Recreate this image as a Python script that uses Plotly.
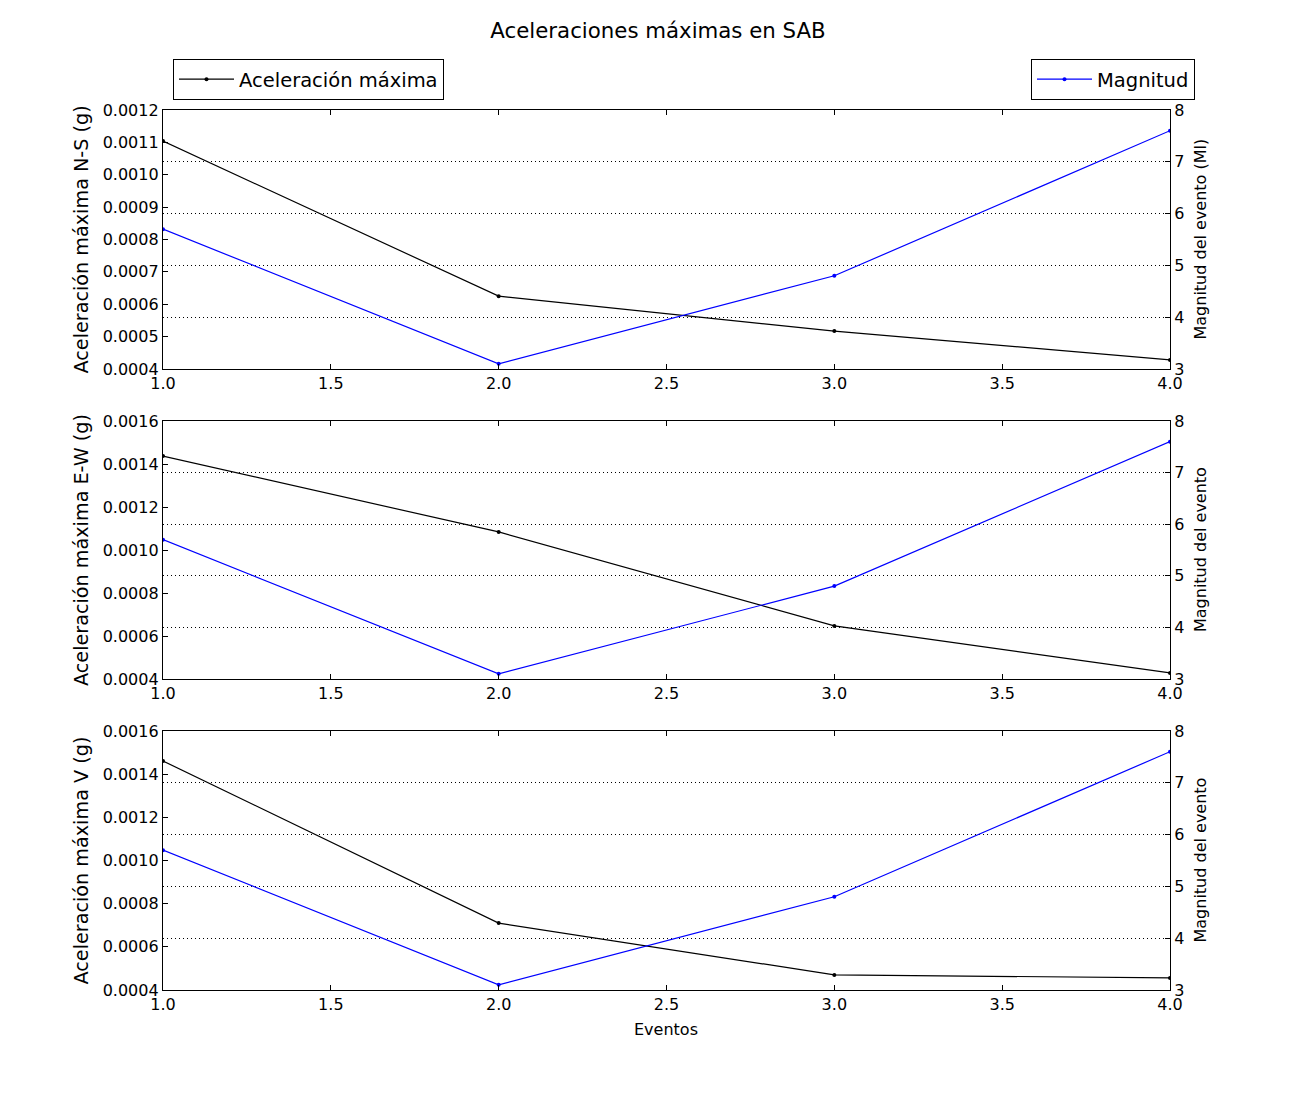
import plotly.graph_objects as go

eventos = [1, 2, 3, 4]
acc_ns = [0.001104, 0.000625, 0.000517, 0.000428]
acc_ew = [0.001437, 0.001084, 0.000647, 0.000428]
acc_v = [0.001461, 0.000710, 0.000470, 0.000456]
magnitud = [5.7, 3.1, 4.8, 7.6]

left_titles = ["Aceleración máxima N-S (g)", "Aceleración máxima E-W (g)", "Aceleración máxima V (g)"]
right_titles = ["Magnitud del evento (Ml)", "Magnitud del evento", "Magnitud del evento"]
left_ranges = [[0.0004, 0.0012], [0.0004, 0.0016], [0.0004, 0.0016]]
left_dticks = [0.0001, 0.0002, 0.0002]
series = [acc_ns, acc_ew, acc_v]

FONT = "DejaVu Sans"
OFF = 8  # page offset in screenshot
W, H = 1300, 1100
L = 163 - OFF
T = 110 - OFF
R = W - 1170 + OFF
B = H - 990 + OFF
pw, ph = W - L - R, H - T - B

def py(px):
    return (H - B - (px - OFF)) / ph

def pxx(px):
    return ((px - OFF) - L) / pw

panels = [(110, 369), (421, 679), (731, 990)]

fig = go.Figure()
for i in range(3):
    n = i + 1
    xa = "x" if n == 1 else f"x{n}"
    ya_l = "y" if n == 1 else f"y{n}"
    ya_r = f"y{n+3}"
    fig.add_trace(go.Scatter(
        x=eventos, y=series[i], mode="lines+markers", name="Aceleración máxima",
        line=dict(color="black", width=1.2), marker=dict(color="black", size=4),
        xaxis=xa, yaxis=ya_l, showlegend=(n == 1), legend="legend"))
    fig.add_trace(go.Scatter(
        x=eventos, y=magnitud, mode="lines+markers", name="Magnitud",
        line=dict(color="blue", width=1.2), marker=dict(color="blue", size=4),
        xaxis=xa, yaxis=ya_r, showlegend=(n == 1), legend="legend2"))

    top, bot = panels[i]
    dom = [py(bot), py(top)]
    axcommon = dict(showline=True, linecolor="black", linewidth=1.3, ticks="inside",
                    ticklen=5, tickcolor="black", tickfont=dict(family=FONT, size=16, color="black"),
                    zeroline=False)
    xkey = "xaxis" if n == 1 else f"xaxis{n}"
    ylkey = "yaxis" if n == 1 else f"yaxis{n}"
    yrkey = f"yaxis{n+3}"
    fig.layout[xkey] = dict(domain=[0, 1], anchor=ya_l, range=[1, 4], dtick=0.5, tick0=1,
                            tickformat=".1f", showgrid=False, mirror="ticks", **axcommon)
    fig.layout[ylkey] = dict(domain=dom, anchor=xa, range=left_ranges[i], dtick=left_dticks[i],
                             tick0=0.0004, tickformat=".4f", showgrid=False, **axcommon)
    fig.layout[yrkey] = dict(domain=dom, anchor=xa, overlaying=ya_l, side="right", range=[3, 8],
                             dtick=1, tick0=3, showgrid=True, gridcolor="black", griddash="1px,3px",
                             gridwidth=1, **axcommon)
    fig.add_annotation(text=left_titles[i], xref="paper", yref="paper", x=pxx(81),
                       y=(dom[0] + dom[1]) / 2, textangle=-90, showarrow=False,
                       xanchor="center", yanchor="middle",
                       font=dict(family=FONT, size=19.2, color="black"))
    fig.add_annotation(text=right_titles[i], xref="paper", yref="paper", x=pxx(1200),
                       y=(dom[0] + dom[1]) / 2, textangle=-90, showarrow=False,
                       xanchor="center", yanchor="middle",
                       font=dict(family=FONT, size=16, color="black"))

fig.add_annotation(text="Eventos", xref="paper", yref="paper", x=pxx(666), y=py(1029),
                   showarrow=False, xanchor="center", yanchor="middle",
                   font=dict(family=FONT, size=16, color="black"))

fig.update_layout(
    width=W, height=H, plot_bgcolor="white", paper_bgcolor="white",
    margin=dict(l=L, r=R, t=T, b=B),
    title=dict(text="Aceleraciones máximas en SAB", x=0.5, xref="container", y=1 - (31 - OFF) / H,
               yref="container", xanchor="center", yanchor="middle",
               font=dict(family=FONT, size=21.3, color="black")),
    legend=dict(x=pxx(173), y=py(59), xanchor="left", yanchor="top", bgcolor="white",
                bordercolor="black", borderwidth=1, itemwidth=55, tracegroupgap=0,
                font=dict(family=FONT, size=19.5, color="black")),
    legend2=dict(x=pxx(1195), y=py(59), xanchor="right", yanchor="top", bgcolor="white",
                 bordercolor="black", borderwidth=1, itemwidth=55, tracegroupgap=0,
                 font=dict(family=FONT, size=19.5, color="black")),
)

fig.write_html("out.html")
